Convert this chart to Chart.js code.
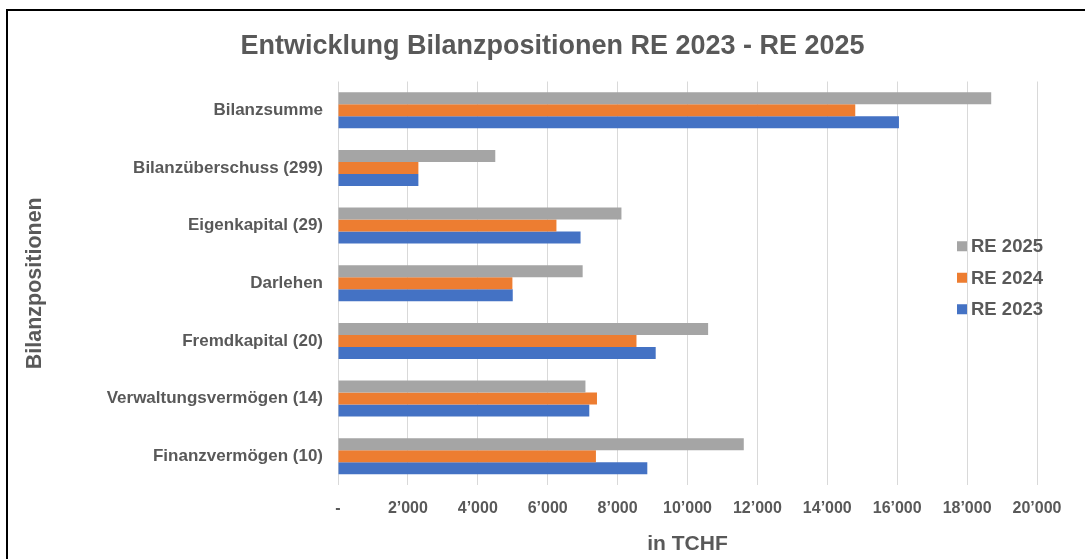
<!DOCTYPE html>
<html>
<head>
<meta charset="utf-8">
<script src="https://cdn.jsdelivr.net/npm/chart.js@4"></script>
<style>
  html, body { margin: 0; padding: 0; background: #fff; }
  #wrap { position: relative; width: 1085px; height: 559px; overflow: hidden; }
  #frame { position: absolute; left: 6px; top: 9px; width: 1100px; height: 600px; border: 2px solid #000; box-sizing: border-box; }
  #chart-canvas { position: absolute; left: 0; top: 0; }
</style>
</head>
<body>
<div id="wrap">
  <div id="frame"></div>
  <canvas id="chart-canvas" width="1085" height="559"></canvas>
</div>
<script>
const categories = [
  'Bilanzsumme',
  'Bilanzüberschuss (299)',
  'Eigenkapital (29)',
  'Darlehen',
  'Fremdkapital (20)',
  'Verwaltungsvermögen (14)',
  'Finanzvermögen (10)'
];
const re2025 = [18690, 4500, 8110, 7000, 10590, 7080, 11610];
const re2024 = [14800, 2300, 6250, 4990, 8540, 7410, 7380];
const re2023 = [16050, 2300, 6940, 5000, 9090, 7190, 8850];
const xTicks = [0, 2000, 4000, 6000, 8000, 10000, 12000, 14000, 16000, 18000, 20000];

const textColor = '#595959';
const fontFamily = '"Liberation Sans", Arial, sans-serif';

function fmt(v) {
  if (v === 0) return '-';
  return String(v).replace(/\B(?=(\d{3})+(?!\d))/g, '\u2019');
}

// legend drawn inside the plot, like the Excel original
const innerLegend = {
  id: 'innerLegend',
  afterDraw(chart) {
    const {ctx, chartArea} = chart;
    const x = chartArea.right - 80;
    let y = (chartArea.top + chartArea.bottom) / 2 - 37;
    ctx.save();
    ctx.font = 'bold 18.5px ' + fontFamily;
    ctx.textBaseline = 'middle';
    chart.data.datasets.forEach(ds => {
      ctx.fillStyle = ds.backgroundColor;
      ctx.fillRect(x, y - 5, 10, 10);
      ctx.fillStyle = textColor;
      ctx.fillText(ds.label, x + 14, y + 1);
      y += 31.5;
    });
    ctx.restore();
  }
};

const chartCtx = document.getElementById('chart-canvas');

const barChart = new Chart(chartCtx, {
  type: 'bar',
  data: {
    labels: categories,
    datasets: [
      { label: 'RE 2025', data: re2025, backgroundColor: '#A5A5A5' },
      { label: 'RE 2024', data: re2024, backgroundColor: '#ED7D31' },
      { label: 'RE 2023', data: re2023, backgroundColor: '#4472C4' }
    ]
  },
  options: {
    indexAxis: 'y',
    responsive: false,
    animation: false,
    layout: { padding: { left: 20, right: 0, top: 0, bottom: 0 } },
    datasets: { bar: { categoryPercentage: 0.624, barPercentage: 1 } },
    plugins: {
      legend: { display: false },
      tooltip: { enabled: false },
      title: {
        display: true,
        text: 'Entwicklung Bilanzpositionen RE 2023 - RE 2025',
        color: textColor,
        font: { family: fontFamily, size: 27, weight: 'bold' },
        padding: { top: 30.5, bottom: 18.6 }
      }
    },
    scales: {
      x: {
        min: 0,
        max: 20000,
        afterBuildTicks: s => { s.ticks = xTicks.map(v => ({ value: v })); },
        afterFit: s => { s.height = 74; },
        grid: { color: '#D9D9D9', drawTicks: false },
        border: { display: false },
        ticks: {
          padding: 14,
          color: textColor,
          font: { family: fontFamily, size: 16, weight: 'bold' },
          callback: v => fmt(v)
        },
        title: {
          display: true,
          text: 'in TCHF',
          color: textColor,
          font: { family: fontFamily, size: 21, weight: 'bold' },
          padding: { top: 0, bottom: 2 }
        }
      },
      y: {
        afterFit: s => { s.width = 318; },
        grid: { display: false, drawTicks: false },
        border: { display: false },
        ticks: {
          padding: 15,
          color: textColor,
          font: { family: fontFamily, size: 17, weight: 'bold' }
        },
        title: {
          display: true,
          text: 'Bilanzpositionen',
          color: textColor,
          font: { family: fontFamily, size: 21.5, weight: 'bold' },
          padding: { top: 2, bottom: 0 }
        }
      },
      // empty spacer on the right so the plot ends where the original does
      spacer: {
        type: 'category',
        position: 'right',
        afterFit: s => { s.width = 48; },
        grid: { display: false },
        border: { display: false },
        ticks: { display: false }
      }
    }
  },
  plugins: [innerLegend]
});
</script>
</body>
</html>
